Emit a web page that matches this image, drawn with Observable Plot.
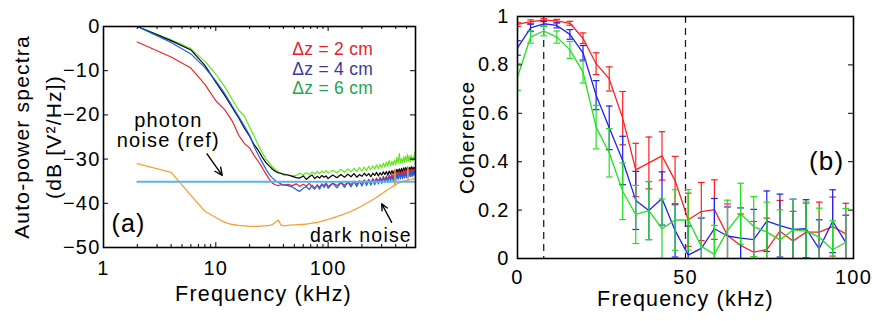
<!DOCTYPE html>
<html><head><meta charset="utf-8">
<script src="https://cdn.jsdelivr.net/npm/d3@7"></script>
<script src="https://cdn.jsdelivr.net/npm/@observablehq/plot@0.6"></script>
<style>
html,body{margin:0;padding:0;background:#fff;}
#wrap{position:relative;width:875px;height:321px;overflow:hidden;background:#fff;}
#pa{position:absolute;left:0;top:0;}
#pb{position:absolute;left:440px;top:0;}
</style></head><body><div id="wrap"><div id="pa"></div><div id="pb"></div></div>
<script>
// ---------- Panel (a): auto-power spectra ----------
const specFreq = [2,4,6,8,10,12,14,16,18,20,22,24,26,28,30,32,34,36,38,40,
  44,48,52,56,60,64,68,72,76,80,84,88,92,96,
  100,110,120,130,140,150,160,170,180,190,200,210,220,230,240,250,260,270,280,290,
  300,310,320,330,340,350,360,370,380,390,400,410,420,430,440,450,460,470,480,490,
  500,510,520,530,540,550,560,570,580,590,600];
const specBlack = [0,-3.2,-5.3,-8.8,-12.6,-15.6,-18.3,-20.7,-23.0,-24.8,
  -26.8,-28.1,-29.6,-30.8,-31.6,-32.3,-32.8,-33.1,-33.2,-33.5,
  -33.6,-33.9,-34.2,-34.3,-33.8,-34.6,-34.0,-33.6,-34.4,-33.9,-34.3,-33.7,-34.1,-33.8,
  -34.4,-33.6,-34.2,-33.5,-34.1,-33.4,-34.0,-33.3,-34.1,-33.5,
  -33.9,-33.2,-33.8,-33.3,-34.0,-33.2,-33.7,-33.0,-33.8,-33.1,
  -33.6,-32.9,-33.5,-32.8,-33.6,-32.7,-33.4,-32.6,-33.3,-32.5,
  -33.2,-32.3,-33.1,-32.2,-33.0,-32.1,-32.9,-32.0,-32.8,-31.9,
  -32.7,-31.8,-32.8,-31.9,-32.6,-31.7,-32.5,-31.8,-32.6,-31.9,-32.3];
const specRed = [-3.5,-6.9,-9.4,-13.1,-16.8,-18.8,-21.4,-24.6,-26.5,-27.5,
  -29.2,-30.6,-32.0,-33.4,-34.6,-35.5,-35.8,-36.0,-35.8,-35.9,
  -35.7,-36.0,-35.6,-36.2,-35.7,-36.1,-35.5,-36.3,-36.8,-35.8,-36.4,-35.6,-36.0,-35.4,
  -36.2,-35.4,-36.0,-35.2,-35.9,-35.1,-35.8,-35.0,-35.7,-34.9,
  -35.5,-34.7,-35.4,-34.6,-35.3,-34.4,-35.1,-34.3,-35.0,-34.1,
  -34.9,-33.9,-34.7,-33.8,-34.6,-33.6,-34.4,-33.4,-34.3,-33.2,
  -34.1,-33.0,-33.9,-32.8,-33.8,-32.7,-33.6,-32.5,-33.5,-32.4,
  -33.4,-32.3,-33.3,-32.4,-33.2,-32.2,-33.1,-32.3,-33.0,-32.2,-32.8];
const specBlue = [0,-3.6,-6.2,-9.3,-12.3,-15.2,-18.0,-20.4,-22.6,-24.6,
  -27.2,-29.2,-30.8,-32.3,-33.5,-34.3,-34.9,-35.3,-35.6,-35.8,
  -36.0,-36.3,-36.9,-37.3,-36.6,-36.2,-36.9,-35.9,-36.5,-36.0,-36.8,-35.7,-36.4,-35.6,
  -36.6,-35.5,-36.5,-35.3,-36.4,-35.2,-36.3,-35.1,-36.2,-35.0,
  -36.1,-34.9,-36.0,-34.8,-35.9,-34.7,-35.8,-34.5,-35.6,-34.4,
  -35.5,-34.2,-35.3,-34.1,-35.2,-33.9,-35.0,-33.8,-34.9,-33.6,
  -34.8,-33.5,-34.6,-33.3,-34.5,-33.2,-34.4,-33.1,-34.3,-33.0,
  -34.2,-32.9,-34.1,-32.8,-34.0,-32.7,-33.9,-32.8,-33.8,-32.6,-33.4];
const specGreen = [0,-3.0,-5.0,-7.9,-10.8,-13.6,-16.5,-18.9,-20.3,-22.8,
  -24.8,-27.0,-28.6,-30.0,-30.9,-31.8,-32.4,-32.9,-33.2,-33.3,
  -33.6,-33.8,-33.7,-33.2,-33.6,-33.1,-33.5,-32.9,-33.4,-32.8,-33.3,-32.7,-33.1,-32.6,
  -33.2,-32.5,-33.1,-32.3,-33.0,-32.2,-32.9,-32.1,-32.8,-31.9,
  -32.7,-31.8,-32.6,-31.6,-32.4,-31.5,-32.3,-31.3,-32.2,-31.2,
  -32.0,-30.9,-31.8,-30.7,-31.6,-30.3,-31.5,-30.5,-31.4,-30.2,
  -31.3,-29.6,-31.0,-28.7,-30.9,-29.9,-30.8,-29.5,-30.7,-29.3,
  -30.6,-28.9,-30.5,-29.4,-30.6,-29.1,-30.4,-29.6,-30.3,-28.4,-30.1];
const darkFreq = [2,4,6,8,10,12,14,16,18,20,22,24,26,28,30,32,34,36,38,40,
  44,48,52,56,60,64,68,72,76,80,86,92,98,104,110,118,126,134,142,150,
  160,170,180,190,200,215,230,245,260,275,290,310,330,350,370,390,394,396,410,430,
  450,470,490,510,514,516,530,550,570,600];
const darkNoise = [-31.0,-33.0,-38.2,-41.8,-43.2,-44.3,-44.8,-45.0,-45.1,-45.2,
  -45.2,-45.2,-45.1,-45.1,-45.0,-44.8,-44.3,-43.8,-44.9,-45.1,
  -45.0,-44.9,-44.9,-44.8,-44.8,-44.7,-44.6,-44.5,-44.4,-44.3,
  -44.1,-43.9,-43.7,-43.5,-43.3,-43.1,-42.8,-42.6,-42.3,-42.1,
  -41.8,-41.5,-41.2,-40.9,-40.6,-40.1,-39.7,-39.3,-38.9,-38.5,
  -38.1,-37.6,-37.1,-36.7,-36.3,-36.0,-32.3,-35.9,-35.6,-35.4,
  -35.2,-35.0,-34.9,-34.8,-31.8,-34.8,-34.7,-34.6,-34.5,-34.4];
const photonFreq = [2, 600];
const photonLevel = [-35.1, -35.1];

const aXTicks = [1, 10, 100];
const aXMinor = [2,3,4,5,6,7,8,9,20,30,40,50,60,70,80,90,200,300,400,500];
const aYTicks = [0, -10, -20, -30, -40, -50];
const legendLabels = ["Δz = 2 cm", "Δz = 4 cm", "Δz = 6 cm"];
const legendPos = [{f: 47.9, v: -5.2}, {f: 47.9, v: -9.6}, {f: 47.9, v: -14.0}];
const photonNote = [{f: 3.78, v: -23.6, t: "photon\nnoise (ref)"}];
const darkNote = [{f: 196, v: -47.3, t: "dark noise"}];
const panelANote = [{f: 1.67, v: -44.6, t: "(a)"}];
const arrowsA = [
  {f1: 8.35, v1: -28.8, f2: 11.4, v2: -33.7},
  {f1: 368, v1: -44.3, f2: 300, v2: -40.1}
];

// ---------- Panel (b): coherence ----------
const cohFreq = [0,3.9,7.8,11.7,15.6,19.5,23.4,27.3,31.3,35.2,39.1,43.0,46.9,
  50.8,54.7,58.6,62.5,66.4,70.3,74.2,78.1,82.0,85.9,89.8,93.8,97.7];
const cohRed = [0.967,0.979,0.985,0.982,0.972,0.91,0.805,0.742,0.58,0.366,0.395,0.424,0.322,
  0.16,0.194,0.202,0.095,0.054,0.026,0.037,0.113,0.072,0.109,0.109,0.132,0.102];
const errRed = [0.008,0.007,0.006,0.006,0.008,0.022,0.045,0.05,0.11,0.11,0.107,0.1,0.1,
  0.11,0.12,0.123,0.13,0.13,0.127,0.13,0.127,0.123,0.12,0.124,0.122,0.126];
const cohBlue = [0.87,0.953,0.97,0.963,0.926,0.85,0.675,0.54,0.405,0.24,0.198,0.248,0.116,
  0.014,0.042,0.123,0.093,0.084,0.078,0.154,0.136,0.12,0.123,0.04,0.154,0.067];
const errBlue = [0.03,0.015,0.01,0.01,0.02,0.03,0.06,0.09,0.1,0.12,0.12,0.11,0.11,
  0.12,0.125,0.125,0.12,0.125,0.125,0.125,0.13,0.125,0.12,0.12,0.13,0.112];
const cohGreen = [0.75,0.915,0.94,0.915,0.862,0.77,0.543,0.437,0.278,0.182,0.198,0.123,0.159,
  0.16,0.05,0.017,0.116,0.185,0.132,0.109,0.077,0.118,0.113,0.088,0.036,0.067];
const errGreen = [0.055,0.025,0.02,0.025,0.035,0.045,0.09,0.1,0.117,0.12,0.12,0.123,0.125,
  0.125,0.12,0.12,0.125,0.126,0.124,0.124,0.124,0.126,0.12,0.12,0.12,0.14];
const bXTicks = [0, 50, 100];
const bYTicks = [0, 0.2, 0.4, 0.6, 0.8, 1];
const refLines = [7.8, 50];
const panelBNote = [{f: 92, v: 0.40, t: "(b)"}];

// ---------- shared ----------
const FONT = '"Liberation Sans", Arial, Helvetica, sans-serif';
const H = 321, TICK = 5, MINOR = 3;
const pairs = (fs, vs) => fs.map((f, i) => ({f, v: vs[i]}));

// Panel (a)
const mA = {l: 103, r: 25, t: 26, b: 74}, WA = 440;
const iwA = WA - mA.l - mA.r, ihA = H - mA.t - mA.b;
const CA = {black: "#000000", red: "#ef2328", blue: "#1f5fef", green: "#5fe81a", orange: "#f6a034", photon: "#5bb6e6"};
const LEG = ["#e8202a", "#3a3a9c", "#1ea64b"];

const chartA = Plot.plot({
  width: WA, height: H,
  marginLeft: mA.l, marginRight: mA.r, marginTop: mA.t, marginBottom: mA.b,
  x: {type: "log", domain: [1, 600]},
  y: {domain: [-50, 0]},
  style: {fontFamily: FONT, fontSize: "20px", color: "#000", background: "transparent", overflow: "visible"},
  marks: [
    Plot.line(pairs(specFreq, specGreen), {x: "f", y: "v", stroke: CA.green, strokeWidth: 1.2}),
    Plot.line(pairs(specFreq, specBlack), {x: "f", y: "v", stroke: CA.black, strokeWidth: 1.2}),
    Plot.line(pairs(specFreq, specRed), {x: "f", y: "v", stroke: CA.red, strokeWidth: 1.2}),
    Plot.line(pairs(specFreq, specBlue), {x: "f", y: "v", stroke: CA.blue, strokeWidth: 1.2}),
    Plot.line(pairs(darkFreq, darkNoise), {x: "f", y: "v", stroke: CA.orange, strokeWidth: 1.3}),
    Plot.line(pairs(photonFreq, photonLevel), {x: "f", y: "v", stroke: CA.photon, strokeWidth: 2}),
    // inward ticks
    Plot.ruleX(aXTicks, {insetTop: ihA - TICK, stroke: "#000"}),
    Plot.ruleX(aXTicks, {insetBottom: ihA - TICK, stroke: "#000"}),
    Plot.ruleX(aXMinor, {insetTop: ihA - MINOR, stroke: "#000"}),
    Plot.ruleX(aXMinor, {insetBottom: ihA - MINOR, stroke: "#000"}),
    Plot.ruleY(aYTicks, {insetRight: iwA - TICK, stroke: "#000"}),
    Plot.ruleY(aYTicks, {insetLeft: iwA - TICK, stroke: "#000"}),
    Plot.axisX({ticks: aXTicks, tickSize: 0, tickPadding: 13, tickFormat: d => String(d), label: null, fontSize: 20}),
    Plot.axisY({ticks: aYTicks, tickSize: 0, tickPadding: 3, tickFormat: d => d < 0 ? "\u2212" + (-d) : String(d), label: null, fontSize: 20}),
    // axis titles
    Plot.text(["Frequency (kHz)"], {text: d => d, frameAnchor: "bottom", textAnchor: "middle", lineAnchor: "middle", dx: 4, dy: 47, fontSize: 21.5}),
    Plot.text(["Auto-power spectra\n(dB [V\u00b2/Hz])"], {text: d => d, frameAnchor: "left", textAnchor: "middle", lineAnchor: "middle", rotate: -90, dx: -68.5, lineHeight: 1.5, fontSize: 21}),
    // legend
    Plot.text(legendPos, {x: "f", y: "v", text: (d, i) => legendLabels[i], fill: (d, i) => LEG[i], textAnchor: "start", fontSize: 17.5}),
    // annotations
    Plot.text(photonNote, {x: "f", y: "v", text: "t", textAnchor: "middle", lineHeight: 1.0, fontSize: 20}),
    Plot.text(darkNote, {x: "f", y: "v", text: "t", textAnchor: "middle", fontSize: 19.5}),
    Plot.text(panelANote, {x: "f", y: "v", text: "t", textAnchor: "middle", fontSize: 25}),
    Plot.arrow(arrowsA, {x1: "f1", y1: "v1", x2: "f2", y2: "v2", stroke: "#000", strokeWidth: 1.4, headLength: 9, headAngle: 50}),
    Plot.frame({stroke: "#000", strokeWidth: 1.6})
  ]
});
document.getElementById("pa").appendChild(chartA);

// Panel (b)
const mB = {l: 77, r: 22, t: 16, b: 63}, WB = 435;
const iwB = WB - mB.l - mB.r, ihB = H - mB.t - mB.b;
const CB = {red: "#ff2020", blue: "#2222ee", green: "#22e022"};
const CAP = 1.0;
const errTable = (vs, es) => cohFreq.map((f, i) => ({f, v: vs[i], lo: vs[i] - es[i], hi: vs[i] + es[i]}));
function seriesMarks(vs, es, color) {
  const t = errTable(vs, es);
  return [
    Plot.ruleX(t, {x: "f", y1: "lo", y2: "hi", stroke: color, strokeWidth: 1.2, clip: true}),
    Plot.link(t, {x1: d => d.f - CAP, x2: d => d.f + CAP, y1: "hi", y2: "hi", stroke: color, strokeWidth: 1.2, clip: true}),
    Plot.link(t, {x1: d => d.f - CAP, x2: d => d.f + CAP, y1: "lo", y2: "lo", stroke: color, strokeWidth: 1.2, clip: true}),
    Plot.line(t, {x: "f", y: "v", stroke: color, strokeWidth: 1.3, clip: true})
  ];
}
const chartB = Plot.plot({
  width: WB, height: H,
  marginLeft: mB.l, marginRight: mB.r, marginTop: mB.t, marginBottom: mB.b,
  x: {domain: [0, 100]},
  y: {domain: [0, 1]},
  style: {fontFamily: FONT, fontSize: "20px", color: "#000", background: "transparent", overflow: "visible"},
  marks: [
    Plot.ruleX(refLines, {stroke: "#222", strokeWidth: 1.3, strokeDasharray: "7,5"}),
    ...seriesMarks(cohRed, errRed, CB.red),
    ...seriesMarks(cohBlue, errBlue, CB.blue),
    ...seriesMarks(cohGreen, errGreen, CB.green),
    Plot.ruleX(bXTicks, {insetTop: ihB - TICK, stroke: "#000"}),
    Plot.ruleX(bXTicks, {insetBottom: ihB - TICK, stroke: "#000"}),
    Plot.ruleY(bYTicks, {insetRight: iwB - TICK, stroke: "#000"}),
    Plot.ruleY(bYTicks, {insetLeft: iwB - TICK, stroke: "#000"}),
    Plot.axisX({ticks: bXTicks, tickSize: 0, tickPadding: 11, tickFormat: d => String(d), label: null, fontSize: 20}),
    Plot.axisY({ticks: bYTicks, tickSize: 0, tickPadding: 8, tickFormat: d => String(d), label: null, fontSize: 20}),
    Plot.text(["Frequency (kHz)"], {text: d => d, frameAnchor: "bottom", textAnchor: "middle", lineAnchor: "middle", dy: 41, fontSize: 21.5}),
    Plot.text(["Coherence"], {text: d => d, frameAnchor: "left", textAnchor: "middle", lineAnchor: "middle", rotate: -90, dx: -50, fontSize: 21}),
    Plot.text(panelBNote, {x: "f", y: "v", text: "t", textAnchor: "middle", fontSize: 26}),
    Plot.frame({stroke: "#000", strokeWidth: 1.6})
  ]
});
document.getElementById("pb").appendChild(chartB);

// letter spacing to match the wide MATLAB text rendering
[chartA, chartB].forEach(svg => svg.querySelectorAll("text").forEach(t => {
  const s = t.textContent || "";
  t.style.letterSpacing = s.startsWith("Δz") ? "0.3px" : "1.2px";
}));
</script></body></html>
